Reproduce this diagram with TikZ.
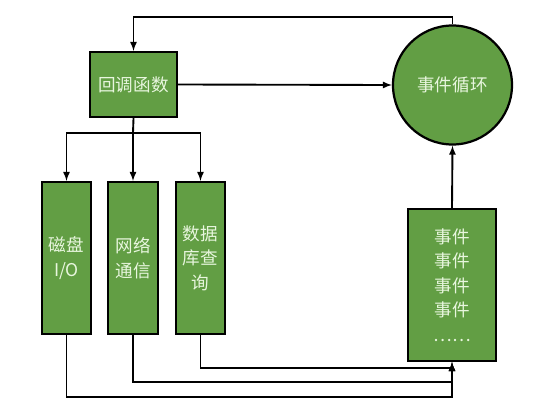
\documentclass[tikz,border=0pt]{standalone}
\usepackage{fontspec}
\newfontfamily\cjk{Noto Sans CJK SC}
\usetikzlibrary{positioning}
\definecolor{boxgreen}{RGB}{98,158,68}
\definecolor{txtlight}{RGB}{232,246,222}
\tikzset{
	gbox/.style={draw=black, line width=1.9pt, fill=boxgreen, text=txtlight, align=center, inner sep=0pt, font=\cjk\fontsize{15}{21}\selectfont},
	conn/.style={line width=1.6pt}
}

\begin{document}
\begin{tikzpicture}[x=0.03cm, y=-0.03cm]
		\useasboundingbox (0,0) rectangle (538,411);
		\node [gbox, circle, minimum size=3.57cm] (loop) at (452.5,85) {事件循环};
		\node [gbox, minimum width=2.61cm, minimum height=1.95cm] (cb) at (133.5,84.5) {回调函数};
		\node [gbox, minimum width=1.47cm, minimum height=4.56cm] (disk) at (66.5,258) {磁盘\\I/O};
		\node [gbox, minimum width=1.5cm, minimum height=4.56cm] (net) at (133,258) {网络\\通信};
		\node [gbox, minimum width=1.47cm, minimum height=4.56cm] (db) at (200.5,258) {数据\\库查\\询};
		\node [gbox, minimum width=2.64cm, minimum height=4.56cm] (queue) at (452,285) {事件\\事件\\事件\\事件\\……};
		\coordinate (top) at (452.5,17);
		\coordinate (br) at (133,133);
		\draw [conn, -latex] (loop.north) -- (top) -| (cb.north);
		\draw [conn, -latex] (cb.east) -- (loop.west);
		\draw [conn] (cb.south) -- (br);
		\foreach \n in {disk, net, db}{
				\draw [conn, -latex] (br) -| (\n.north);
			}
		\foreach \n/\y in {disk/397, net/382, db/368}{
				\draw [conn, -latex] (\n.south) |- (452,\y) -- (queue.south);
			}
		\draw [conn, -latex] (queue.north) -- (loop.south);
	\end{tikzpicture}
\end{document}
